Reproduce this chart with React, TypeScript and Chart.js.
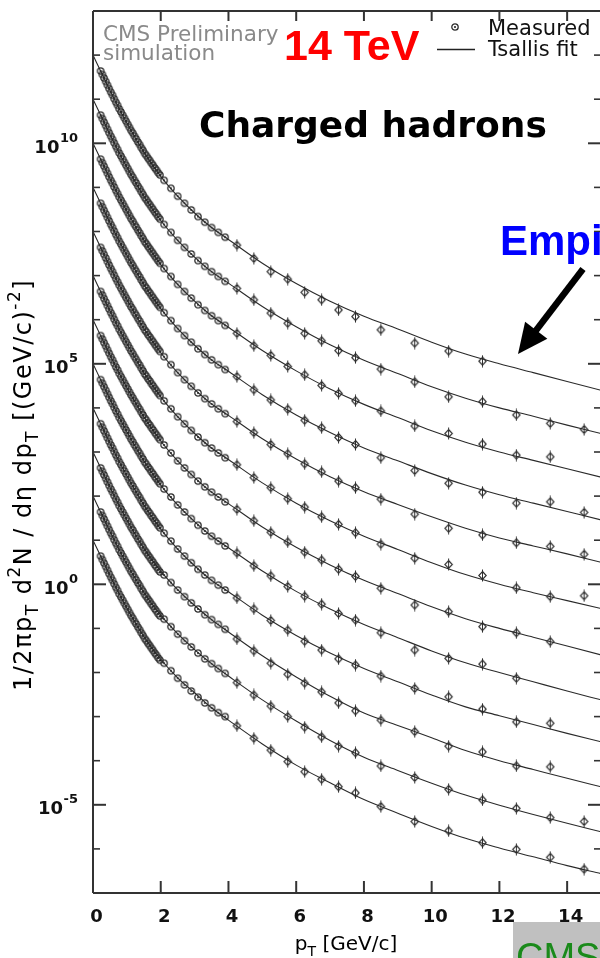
import { useEffect, useRef } from "react";
import { Chart, registerables } from "chart.js";

Chart.register(...registerables);

// ---------- data (values are log10 of 1/2πpT d²N/dη dpT) ----------
const PT_BINS = [
  0.225, 0.275, 0.325, 0.375, 0.425, 0.475, 0.525, 0.575, 0.625, 0.675, 0.725, 0.775,
  0.825, 0.875, 0.925, 0.975, 1.025, 1.075, 1.125, 1.175, 1.225, 1.275, 1.325, 1.375,
  1.425, 1.475, 1.525, 1.575, 1.625, 1.675, 1.725, 1.775, 1.825, 1.875, 1.925, 1.975,
  2.1, 2.3, 2.5, 2.7, 2.9, 3.1, 3.3, 3.5, 3.7, 3.9,
  4.25, 4.75, 5.25, 5.75, 6.25, 6.75, 7.25, 7.75,
  8.5, 9.5, 10.5, 11.5, 12.5, 13.5, 14.5,
];

const MEAS_0 = [11.64, 11.56, 11.48, 11.40, 11.32, 11.24, 11.16, 11.09, 11.01, 10.93, 10.86, 10.78, 10.71, 10.64, 10.57, 10.50, 10.43, 10.36, 10.29, 10.23, 10.16, 10.10, 10.03, 9.97, 9.90, 9.84, 9.77, 9.72, 9.66, 9.61, 9.55, 9.50, 9.44, 9.39, 9.33, 9.28, 9.16, 8.98, 8.80, 8.64, 8.49, 8.34, 8.21, 8.09, 7.98, 7.87, 7.69, 7.39, 7.09, 6.92, 6.62, 6.45, 6.22, 6.07, 5.77, 5.47, 5.29, 5.06, null, null, null];
const MEAS_1 = [10.64, 10.56, 10.48, 10.40, 10.32, 10.24, 10.16, 10.09, 10.01, 9.93, 9.86, 9.78, 9.71, 9.64, 9.57, 9.50, 9.43, 9.36, 9.29, 9.23, 9.16, 9.10, 9.03, 8.97, 8.90, 8.84, 8.77, 8.72, 8.66, 8.61, 8.55, 8.50, 8.44, 8.39, 8.33, 8.28, 8.16, 7.98, 7.80, 7.64, 7.49, 7.34, 7.21, 7.09, 6.98, 6.87, 6.71, 6.45, 6.15, 5.92, 5.69, 5.52, 5.30, 5.14, 4.88, 4.59, 4.25, 4.14, 3.84, 3.65, 3.51];
const MEAS_2 = [9.64, 9.56, 9.48, 9.40, 9.32, 9.24, 9.16, 9.09, 9.01, 8.93, 8.86, 8.78, 8.71, 8.64, 8.57, 8.50, 8.43, 8.36, 8.29, 8.23, 8.16, 8.10, 8.03, 7.97, 7.90, 7.84, 7.77, 7.72, 7.66, 7.61, 7.55, 7.50, 7.44, 7.39, 7.33, 7.28, 7.16, 6.98, 6.80, 6.64, 6.49, 6.34, 6.21, 6.09, 5.98, 5.87, 5.69, 5.41, 5.19, 4.94, 4.75, 4.51, 4.33, 4.16, 3.93, 3.59, 3.42, 3.18, 2.93, 2.89, null];
const MEAS_3 = [8.64, 8.56, 8.48, 8.40, 8.32, 8.24, 8.16, 8.09, 8.01, 7.93, 7.86, 7.78, 7.71, 7.64, 7.57, 7.50, 7.43, 7.36, 7.29, 7.23, 7.16, 7.10, 7.03, 6.97, 6.90, 6.84, 6.77, 6.72, 6.66, 6.61, 6.55, 6.50, 6.44, 6.39, 6.33, 6.28, 6.16, 5.98, 5.80, 5.64, 5.49, 5.34, 5.21, 5.09, 4.98, 4.87, 4.71, 4.41, 4.18, 3.97, 3.72, 3.55, 3.33, 3.17, 2.87, 2.58, 2.29, 2.09, 1.84, 1.87, 1.63];
const MEAS_4 = [7.64, 7.56, 7.48, 7.40, 7.32, 7.24, 7.16, 7.09, 7.01, 6.93, 6.86, 6.78, 6.71, 6.64, 6.57, 6.50, 6.43, 6.36, 6.29, 6.23, 6.16, 6.10, 6.03, 5.97, 5.90, 5.84, 5.77, 5.72, 5.66, 5.61, 5.55, 5.50, 5.44, 5.39, 5.33, 5.28, 5.16, 4.98, 4.80, 4.64, 4.49, 4.34, 4.21, 4.09, 3.98, 3.87, 3.69, 3.44, 3.17, 2.96, 2.73, 2.55, 2.34, 2.19, 1.93, 1.59, 1.27, 1.12, 0.94, 0.86, 0.68];
const MEAS_5 = [6.64, 6.56, 6.48, 6.40, 6.32, 6.24, 6.16, 6.09, 6.01, 5.93, 5.86, 5.78, 5.71, 5.64, 5.57, 5.50, 5.43, 5.36, 5.29, 5.23, 5.16, 5.10, 5.03, 4.97, 4.90, 4.84, 4.77, 4.72, 4.66, 4.61, 4.55, 4.50, 4.44, 4.39, 4.33, 4.28, 4.16, 3.98, 3.80, 3.64, 3.49, 3.34, 3.21, 3.09, 2.98, 2.87, 2.71, 2.42, 2.19, 1.94, 1.75, 1.53, 1.36, 1.17, 0.91, 0.59, 0.45, 0.20, -0.08, -0.28, -0.26];
const MEAS_6 = [5.64, 5.56, 5.48, 5.40, 5.32, 5.24, 5.16, 5.09, 5.01, 4.93, 4.86, 4.78, 4.71, 4.64, 4.57, 4.50, 4.43, 4.36, 4.29, 4.23, 4.16, 4.10, 4.03, 3.97, 3.90, 3.84, 3.77, 3.72, 3.66, 3.61, 3.55, 3.50, 3.44, 3.39, 3.33, 3.28, 3.16, 2.98, 2.80, 2.64, 2.49, 2.34, 2.21, 2.09, 1.98, 1.87, 1.70, 1.44, 1.18, 0.96, 0.73, 0.55, 0.34, 0.18, -0.09, -0.47, -0.62, -0.96, -1.10, -1.30, null];
const MEAS_7 = [4.64, 4.56, 4.48, 4.40, 4.32, 4.24, 4.16, 4.09, 4.01, 3.93, 3.86, 3.78, 3.71, 3.64, 3.57, 3.50, 3.43, 3.36, 3.29, 3.23, 3.16, 3.10, 3.03, 2.97, 2.90, 2.84, 2.77, 2.72, 2.66, 2.61, 2.55, 2.50, 2.44, 2.39, 2.33, 2.28, 2.16, 1.98, 1.80, 1.64, 1.49, 1.34, 1.21, 1.09, 0.98, 0.87, 0.71, 0.42, 0.19, -0.05, -0.27, -0.45, -0.66, -0.81, -1.10, -1.49, -1.68, -1.81, -2.13, null, null];
const MEAS_8 = [3.64, 3.56, 3.48, 3.40, 3.32, 3.24, 3.16, 3.09, 3.01, 2.93, 2.86, 2.78, 2.71, 2.64, 2.57, 2.50, 2.43, 2.36, 2.29, 2.23, 2.16, 2.10, 2.03, 1.97, 1.90, 1.84, 1.77, 1.72, 1.66, 1.61, 1.55, 1.50, 1.44, 1.39, 1.33, 1.28, 1.16, 0.98, 0.80, 0.64, 0.49, 0.34, 0.21, 0.09, -0.02, -0.13, -0.31, -0.56, -0.82, -1.04, -1.29, -1.49, -1.69, -1.83, -2.08, -2.36, -2.55, -2.83, -3.12, -3.15, null];
const MEAS_9 = [2.64, 2.56, 2.48, 2.40, 2.32, 2.24, 2.16, 2.09, 2.01, 1.93, 1.86, 1.78, 1.71, 1.64, 1.57, 1.50, 1.43, 1.36, 1.29, 1.23, 1.16, 1.10, 1.03, 0.97, 0.90, 0.84, 0.77, 0.72, 0.66, 0.61, 0.55, 0.50, 0.44, 0.39, 0.33, 0.28, 0.21, 0.04, -0.13, -0.28, -0.42, -0.56, -0.69, -0.80, -0.91, -1.02, -1.24, -1.51, -1.79, -2.04, -2.24, -2.44, -2.69, -2.87, -3.08, -3.34, -3.67, -3.80, -4.12, -4.14, null];
const MEAS_10 = [1.64, 1.56, 1.48, 1.40, 1.32, 1.24, 1.16, 1.09, 1.01, 0.93, 0.86, 0.78, 0.71, 0.64, 0.57, 0.50, 0.43, 0.36, 0.29, 0.23, 0.16, 0.10, 0.03, -0.03, -0.10, -0.16, -0.23, -0.28, -0.34, -0.39, -0.45, -0.50, -0.56, -0.61, -0.67, -0.72, -0.79, -0.96, -1.13, -1.28, -1.42, -1.56, -1.69, -1.80, -1.91, -2.02, -2.23, -2.51, -2.76, -3.00, -3.24, -3.46, -3.67, -3.82, -4.12, -4.38, -4.65, -4.89, -5.08, -5.29, -5.38];
const MEAS_11 = [0.64, 0.56, 0.48, 0.40, 0.32, 0.24, 0.16, 0.09, 0.01, -0.07, -0.14, -0.22, -0.29, -0.36, -0.43, -0.50, -0.57, -0.64, -0.71, -0.77, -0.84, -0.90, -0.97, -1.03, -1.10, -1.16, -1.23, -1.28, -1.34, -1.39, -1.45, -1.50, -1.56, -1.61, -1.67, -1.72, -1.79, -1.96, -2.13, -2.28, -2.42, -2.56, -2.69, -2.80, -2.91, -3.00, -3.21, -3.49, -3.76, -4.02, -4.25, -4.42, -4.59, -4.73, -5.04, -5.38, -5.59, -5.86, -6.01, -6.19, -6.46];

// Tsallis fit curves (log10), read at these pT nodes
const FIT_PT = [0, 0.25, 0.5, 0.75, 1, 1.5, 2, 2.5, 3, 3.5, 4, 5, 6, 7, 8, 9, 10, 11, 12, 13, 14, 15];
const FIT_0 = [12.00, 11.60, 11.20, 10.82, 10.46, 9.80, 9.25, 8.80, 8.42, 8.09, 7.82, 7.28, 6.82, 6.42, 6.08, 5.79, 5.49, 5.22, 5.00, 4.80, 4.60, 4.40];
const FIT_1 = [11.00, 10.60, 10.20, 9.82, 9.46, 8.80, 8.25, 7.80, 7.42, 7.09, 6.83, 6.30, 5.84, 5.43, 5.08, 4.78, 4.48, 4.22, 4.00, 3.81, 3.61, 3.42];
const FIT_2 = [10.00, 9.60, 9.20, 8.82, 8.46, 7.80, 7.25, 6.80, 6.42, 6.09, 5.83, 5.30, 4.84, 4.43, 4.08, 3.78, 3.48, 3.22, 3.00, 2.81, 2.62, 2.43];
const FIT_3 = [9.00, 8.60, 8.20, 7.82, 7.46, 6.80, 6.25, 5.80, 5.42, 5.09, 4.83, 4.30, 3.84, 3.44, 3.09, 2.80, 2.51, 2.25, 2.03, 1.84, 1.65, 1.46];
const FIT_4 = [8.00, 7.60, 7.20, 6.82, 6.46, 5.80, 5.25, 4.80, 4.42, 4.09, 3.83, 3.30, 2.84, 2.44, 2.10, 1.81, 1.53, 1.27, 1.05, 0.87, 0.69, 0.50];
const FIT_5 = [7.00, 6.60, 6.20, 5.82, 5.46, 4.80, 4.25, 3.80, 3.42, 3.09, 2.83, 2.30, 1.84, 1.44, 1.09, 0.79, 0.49, 0.22, 0.00, -0.19, -0.37, -0.55];
const FIT_6 = [6.00, 5.60, 5.20, 4.82, 4.46, 3.80, 3.25, 2.80, 2.42, 2.09, 1.83, 1.30, 0.84, 0.44, 0.09, -0.21, -0.51, -0.78, -1.00, -1.20, -1.40, -1.60];
const FIT_7 = [5.00, 4.60, 4.20, 3.82, 3.46, 2.80, 2.25, 1.80, 1.42, 1.09, 0.83, 0.30, -0.16, -0.56, -0.91, -1.21, -1.51, -1.78, -2.00, -2.21, -2.42, -2.62];
const FIT_8 = [4.00, 3.60, 3.20, 2.82, 2.46, 1.80, 1.25, 0.80, 0.42, 0.09, -0.17, -0.70, -1.16, -1.56, -1.91, -2.21, -2.51, -2.78, -2.98, -3.18, -3.38, -3.57];
const FIT_9 = [3.00, 2.60, 2.20, 1.82, 1.46, 0.82, 0.30, -0.12, -0.48, -0.80, -1.08, -1.62, -2.10, -2.54, -2.92, -3.20, -3.48, -3.77, -4.00, -4.20, -4.40, -4.59];
const FIT_10 = [2.00, 1.60, 1.20, 0.82, 0.46, -0.18, -0.70, -1.12, -1.48, -1.80, -2.08, -2.62, -3.10, -3.54, -3.92, -4.22, -4.51, -4.78, -5.01, -5.22, -5.42, -5.61];
const FIT_11 = [1.00, 0.60, 0.20, -0.18, -0.54, -1.18, -1.70, -2.12, -2.46, -2.80, -3.08, -3.62, -4.10, -4.50, -4.88, -5.19, -5.49, -5.76, -5.98, -6.18, -6.38, -6.56];

const MEASURED = [MEAS_0, MEAS_1, MEAS_2, MEAS_3, MEAS_4, MEAS_5, MEAS_6, MEAS_7, MEAS_8, MEAS_9, MEAS_10, MEAS_11];
const FITS = [FIT_0, FIT_1, FIT_2, FIT_3, FIT_4, FIT_5, FIT_6, FIT_7, FIT_8, FIT_9, FIT_10, FIT_11];

const X_TICKS = [0, 2, 4, 6, 8, 10, 12, 14];
const X_TICK_LABELS = ["0", "2", "4", "6", "8", "10", "12", "14"];
const Y_DECADES = [-7, -6, -5, -4, -3, -2, -1, 0, 1, 2, 3, 4, 5, 6, 7, 8, 9, 10, 11, 12, 13];
const Y_LABEL_EXPONENTS = [-5, 0, 5, 10];
const Y_LABEL_EXP_TEXT = ["-5", "0", "5", "10"];

// ---------- drawing helpers ----------
type Seg = [string, "n" | "sub" | "sup"];

function segFont(kind: string, size: number, weight: string, family: string) {
  const s = kind === "n" ? size : Math.round(size * 0.7);
  return `${weight} ${s}px ${family}`;
}

function richWidth(ctx: CanvasRenderingContext2D, segs: Seg[], size: number, weight: string, family: string) {
  let w = 0;
  for (const [t, k] of segs) {
    ctx.font = segFont(k, size, weight, family);
    w += ctx.measureText(t).width;
  }
  return w;
}

function drawRich(ctx: CanvasRenderingContext2D, segs: Seg[], x: number, y: number, size: number, weight: string, family: string, align: "left" | "center" | "right") {
  const w = richWidth(ctx, segs, size, weight, family);
  let cx = align === "left" ? x : align === "center" ? x - w / 2 : x - w;
  ctx.textAlign = "left";
  for (const [t, k] of segs) {
    ctx.font = segFont(k, size, weight, family);
    const dy = k === "sub" ? size * 0.3 : k === "sup" ? -size * 0.45 : 0;
    ctx.fillText(t, cx, y + dy);
    cx += ctx.measureText(t).width;
  }
}

function makeMarkers() {
  const circ = document.createElement("canvas");
  circ.width = 10;
  circ.height = 10;
  const c = circ.getContext("2d")!;
  c.strokeStyle = "#2e2e2e";
  c.lineWidth = 1.3;
  c.beginPath();
  c.arc(5, 5, 3.2, 0, Math.PI * 2);
  c.stroke();
  c.fillStyle = "#1a1a1a";
  c.beginPath();
  c.arc(5, 5, 1.0, 0, Math.PI * 2);
  c.fill();

  const dia = document.createElement("canvas");
  dia.width = 11;
  dia.height = 13;
  const d = dia.getContext("2d")!;
  d.strokeStyle = "#2e2e2e";
  d.lineWidth = 1.15;
  d.beginPath();
  d.moveTo(5.5, 2.5);
  d.lineTo(9.2, 6.5);
  d.lineTo(5.5, 10.5);
  d.lineTo(1.8, 6.5);
  d.closePath();
  d.stroke();
  d.lineWidth = 1;
  d.beginPath();
  d.moveTo(5.5, 0.5);
  d.lineTo(5.5, 12.5);
  d.stroke();
  return { circ, dia };
}

const SANS = '"DejaVu Sans", sans-serif';
const ARIAL = '"Liberation Sans", Arial, sans-serif';

const overlayPlugin = {
  id: "rootOverlay",
  afterDraw(chart: any) {
    const { ctx, chartArea: a, scales } = chart;
    const xs = scales.x;
    const ys = scales.y;
    ctx.save();
    const line = (x0: number, y0: number, x1: number, y1: number) => {
      ctx.beginPath();
      ctx.moveTo(x0, y0);
      ctx.lineTo(x1, y1);
      ctx.stroke();
    };
    // frame
    ctx.strokeStyle = "#333";
    ctx.lineWidth = 2;
    line(a.left, a.top, a.left, a.bottom);
    line(a.left, a.bottom, a.right, a.bottom);
    line(a.left, a.top, a.right, a.top);
    line(a.right, a.top, a.right, a.bottom);
    // y ticks
    for (const e of Y_DECADES) {
      const py = ys.getPixelForValue(Math.pow(10, e));
      const major = e % 5 === 0;
      const len = major ? 13 : 7;
      ctx.lineWidth = major ? 2 : 1.6;
      line(a.left, py, a.left + len, py);
      line(a.right, py, a.right - len, py);
    }
    // x ticks
    ctx.lineWidth = 2;
    for (const t of X_TICKS) {
      const px = xs.getPixelForValue(t);
      line(px, a.bottom, px, a.bottom - 12);
      line(px, a.top, px, a.top + 10);
    }
    // x tick labels
    ctx.fillStyle = "#111";
    ctx.textBaseline = "alphabetic";
    ctx.textAlign = "center";
    ctx.font = `bold 18px ${SANS}`;
    X_TICKS.forEach((t, i) => {
      ctx.fillText(X_TICK_LABELS[i], xs.getPixelForValue(t) + 3.5, a.bottom + 29);
    });
    // y tick labels 10^n
    Y_LABEL_EXPONENTS.forEach((e, i) => {
      const py = ys.getPixelForValue(Math.pow(10, e));
      ctx.font = `bold 13px ${SANS}`;
      const ew = ctx.measureText(Y_LABEL_EXP_TEXT[i]).width;
      const right = 78;
      ctx.textAlign = "right";
      ctx.fillText(Y_LABEL_EXP_TEXT[i], right, py - 1.5);
      ctx.font = `bold 18px ${SANS}`;
      ctx.fillText("10", right - ew - 0.5, py + 9.5);
    });
    // axis titles
    ctx.fillStyle = "#000";
    drawRich(ctx, [["p", "n"], ["T", "sub"], [" [GeV/c]", "n"]], 346, a.bottom + 57, 20, "normal", SANS, "center");
    ctx.save();
    ctx.translate(31, 485);
    ctx.rotate(-Math.PI / 2);
    (ctx as any).letterSpacing = "1.5px";
    drawRich(
      ctx,
      [["1/2πp", "n"], ["T", "sub"], [" d", "n"], ["2", "sup"], ["N / dη dp", "n"], ["T", "sub"], [" [(GeV/c)", "n"], ["-2", "sup"], ["]", "n"]],
      0, 0, 24, "normal", SANS, "center"
    );
    (ctx as any).letterSpacing = "0px";
    ctx.restore();

    // texts
    ctx.textAlign = "left";
    ctx.fillStyle = "#8a8a8a";
    ctx.font = `21.5px ${SANS}`;
    ctx.fillText("CMS Preliminary", 103, 40.5);
    ctx.fillText("simulation", 103, 60);

    ctx.fillStyle = "#ff0000";
    ctx.font = `bold 43px ${ARIAL}`;
    ctx.fillText("14 TeV", 284, 60);

    ctx.fillStyle = "#000";
    ctx.font = `bold 36px ${SANS}`;
    ctx.fillText("Charged hadrons", 199, 137);

    // legend
    const m = (chart as any)._markers;
    if (m) ctx.drawImage(m.circ, 455 - 5, 27 - 5);
    ctx.strokeStyle = "#222";
    ctx.lineWidth = 1.5;
    line(437, 49.5, 475, 49.5);
    ctx.fillStyle = "#111";
    ctx.font = `21px ${SANS}`;
    ctx.fillText("Measured", 488, 35);
    ctx.fillText("Tsallis fit", 488, 55.5);

    // blue annotation + arrow
    ctx.fillStyle = "#0000ff";
    ctx.font = `bold 42px ${ARIAL}`;
    ctx.fillText("Empirical", 500, 255);

    ctx.fillStyle = "#000";
    ctx.strokeStyle = "#000";
    const x0 = 583, y0 = 269, x1 = 518, y1 = 354;
    const ang = Math.atan2(y1 - y0, x1 - x0);
    const hl = 30, hw = 14;
    const bx = x1 - hl * Math.cos(ang), by = y1 - hl * Math.sin(ang);
    ctx.lineWidth = 6.5;
    line(x0, y0, bx + 2 * Math.cos(ang), by + 2 * Math.sin(ang));
    ctx.beginPath();
    ctx.moveTo(x1, y1);
    ctx.lineTo(bx + hw * Math.sin(ang), by - hw * Math.cos(ang));
    ctx.lineTo(bx - hw * Math.sin(ang), by + hw * Math.cos(ang));
    ctx.closePath();
    ctx.fill();

    // grey box with green CMS at bottom right
    ctx.fillStyle = "#c0c0c0";
    ctx.fillRect(513, 922, 200, 60);
    ctx.fillStyle = "#1a8a1a";
    ctx.font = `38px ${ARIAL}`;
    ctx.fillText("CMS", 516, 970);
    ctx.restore();
  },
};

export default function App() {
  const ref = useRef<HTMLCanvasElement>(null);
  useEffect(() => {
    const canvas = ref.current;
    if (!canvas) return;
    const markers = makeMarkers();
    const measuredSets = MEASURED.map((vals, k) => ({
      label: `Measured ${k}`,
      data: PT_BINS.map((x, i) => ({ x, y: vals[i] === null ? null : Math.pow(10, vals[i] as number) })).filter((p) => p.y !== null),
      showLine: false,
      pointStyle: (c: any) => (c.raw && c.raw.x < 4 ? markers.circ : markers.dia),
      pointRadius: 3,
      borderColor: "#333",
      backgroundColor: "rgba(0,0,0,0)",
    }));
    const fitSets = FITS.map((vals, k) => ({
      label: `Tsallis fit ${k}`,
      data: FIT_PT.map((x, i) => ({ x, y: Math.pow(10, vals[i]) })),
      showLine: true,
      pointRadius: 0,
      borderColor: "#2a2a2a",
      borderWidth: 1.1,
      cubicInterpolationMode: "monotone",
      fill: false,
    }));
    const chart = new Chart(canvas, {
      type: "line",
      data: { datasets: [...fitSets, ...measuredSets] as any },
      options: {
        animation: false,
        responsive: false,
        devicePixelRatio: 1,
        events: [],
        layout: { padding: { left: 93, top: 11, right: 19, bottom: 65 } },
        scales: {
          x: { type: "linear", min: 0, max: 15, display: false },
          y: { type: "logarithmic", min: 1e-7, max: 1e13, display: false },
        },
        plugins: { legend: { display: false }, tooltip: { enabled: false } },
      },
      plugins: [
        {
          id: "markersRef",
          beforeInit(c: any) {
            c._markers = markers;
          },
        },
        overlayPlugin,
      ],
    } as any);
    return () => chart.destroy();
  }, []);
  return (
    <div style={{ position: "fixed", left: 0, top: 0, width: 600, height: 958, overflow: "hidden", background: "#fff" }}>
      <canvas ref={ref} width={620} height={958} style={{ display: "block", width: 620, height: 958 }} />
    </div>
  );
}
